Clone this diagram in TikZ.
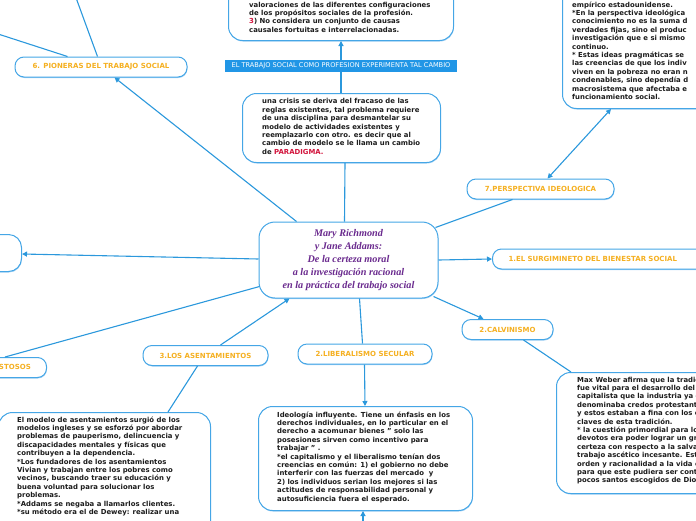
\documentclass[tikz,border=0pt]{standalone}
\usepackage{fontspec}
\setmainfont{DejaVu Sans}
\newfontfamily\timesbi{Liberation Serif}
\usetikzlibrary{arrows.meta,calc,shadows}
\definecolor{lineblue}{HTML}{2B98DC}
\definecolor{boxblue}{HTML}{45A6E6}
\definecolor{shadowblue}{HTML}{A6D2F4}
\definecolor{labelorange}{HTML}{F5B021}
\definecolor{titlepurple}{HTML}{6A2A8E}
\definecolor{accentred}{HTML}{D2143C}
\definecolor{bannerblue}{HTML}{2196E6}
\definecolor{inktext}{HTML}{1C1C1C}
\begin{document}
\begin{tikzpicture}[x=1pt,y=-1pt,
 bigbox/.style={draw=boxblue,line width=1pt,fill=white,rounded corners=14pt,inner sep=0pt,
   drop shadow={shadow xshift=0.4pt,shadow yshift=-1pt,fill=shadowblue,opacity=1}},
 pill/.style={draw=boxblue,line width=1pt,fill=white,rounded corners=9pt,minimum height=20pt,inner sep=0pt,
   font=\fontsize{7}{8}\selectfont\bfseries,text=labelorange,
   drop shadow={shadow xshift=0.4pt,shadow yshift=-1pt,fill=shadowblue,opacity=1}},
 bodytext/.style={anchor=north west,inner sep=0pt,align=left,text=inktext,font=\fontsize{6.9}{8.4}\selectfont\bfseries},
 conn/.style={draw=lineblue,line width=1.1pt},
 arrowend/.style={-{Triangle[length=5pt,width=5pt]}},
]
\useasboundingbox (0,0) rectangle (696,520);
\clip (0,0) rectangle (696,520);

% ---- boxes ----
\node[bigbox,anchor=north west,minimum width=225,minimum height=90] (topc) at (228,-50) {};
\node[bodytext] (topctxt) at (249,0.9) {\rule{0pt}{6pt}valoraciones de las diferentes configuraciones\\
de los propósitos sociales de la profesión.\\
{\color{accentred}3}) No considera un conjunto de causas\\
causales fortuitas e interrelacionadas.};

\node[fill=bannerblue,text=white,font=\fontsize{6.6}{8}\selectfont,minimum width=232,minimum height=12,inner sep=0pt] (banner) at (341,66) {EL TRABAJO SOCIAL COMO PROFESION EXPERIMENTA TAL CAMBIO};

\node[bigbox,anchor=north west,minimum width=198,minimum height=69] (crisis) at (242,93) {};
\node[bodytext] (crisistxt) at (262,97.6) {\rule{0pt}{6pt}una crisis se deriva del fracaso de las\\
reglas existentes, tal problema requiere\\
de una disciplina para desmantelar su\\
modelo de actividades existentes y\\
reemplazarlo con otro. es decir que al\\
cambio de modelo se le llama un cambio\\
de {\color{accentred}PARADIGMA.}};

\node[bigbox,minimum width=179,minimum height=76,rounded corners=16pt,
  font={\timesbi\fontsize{10.2}{13}\selectfont\bfseries\itshape},text=titlepurple,align=center] (center) at (348.5,260)
  {Mary Richmond\\y Jane Addams:\\De la certeza moral\\a la investigación racional\\en la práctica del trabajo social};

\node[bigbox,anchor=north west,minimum width=170,minimum height=158] (perspbox) at (562,-50) {};
\node[bodytext] (persptxt) at (572,0.9) {\rule{0pt}{6pt}empírico estadounidense.\\
*En la perspectiva ideológica\\
conocimiento no es la suma d\\
verdades fijas, sino el produc\\
investigación que e si mismo\\
continuo.\\
* Estas ideas pragmáticas se\\
las creencias de que los indiv\\
viven en la pobreza no eran n\\
condenables, sino dependía d\\
macrosistema que afectaba e\\
funcionamiento social.};

\node[bigbox,anchor=north east,minimum width=120,minimum height=37,rounded corners=13pt] (leftn) at (22,234) {};

\node[bigbox,anchor=north west,minimum width=212,minimum height=150] (asentbox) at (-2,412) {};
\node[bodytext] (asenttxt) at (17,415.9) {\rule{0pt}{6pt}El modelo de asentamientos surgió de los\\
modelos ingleses y se esforzó por abordar\\
problemas de pauperismo, delincuencia y\\
discapacidades mentales y físicas que\\
contribuyen a la dependencia.\\
*Los fundadores de los asentamientos\\
Vivian y trabajan entre los pobres como\\
vecinos, buscando traer su educación y\\
buena voluntad para solucionar los\\
problemas.\\
*Addams se negaba a llamarlos clientes.\\
*su método era el de Dewey: realizar una};

\node[bigbox,anchor=north west,minimum width=214,minimum height=104] (liberbox) at (258,406) {};
\node[bodytext] (libertxt) at (277,410.9) {\rule{0pt}{6pt}Ideología influyente. Tiene un énfasis en los\\
derechos individuales, en lo particular en el\\
derecho a acomunar bienes " solo las\\
posesiones sirven como incentivo para\\
trabajar " .\\
*el capitalismo y el liberalismo tenían dos\\
creencias en común: 1) el gobierno no debe\\
interferir con las fuerzas del mercado\ \ y\\
2) los individuos serian los mejores si las\\
actitudes de responsabilidad personal y\\
autosuficiencia fuera el esperado.};

\node[bigbox,anchor=north west,minimum width=170,minimum height=121] (calvbox) at (556,372) {};
\node[bodytext] (calvtxt) at (577,375.9) {\rule{0pt}{6pt}Max Weber afirma que la tradic\\
fue vital para el desarrollo del\\
capitalista que la industria ya c\\
denominaba credos protestant\\
y estos estaban a fina con los c\\
claves de esta tradición.\\
* la cuestión primordial para lo\\
devotos era poder lograr un gr\\
certeza con respecto a la salva\\
trabajo ascético incesante. Est\\
orden y racionalidad a la vida c\\
para que este pudiera ser cont\\
pocos santos escogidos de Dio};

% ---- labels ----
\node[pill,minimum width=172] (pion) at (101,67) {6. PIONERAS DEL TRABAJO SOCIAL};
\node[pill,anchor=north east,minimum width=120] (stos) at (47,357) {};
\node[anchor=east,inner sep=0pt,font=\fontsize{7}{8}\selectfont\bfseries,text=labelorange] (stostxt) at (31,367) {STOSOS};
\node[pill,minimum width=125] (asent) at (205.5,355.5) {3.LOS ASENTAMIENTOS};
\node[pill,minimum width=134] (liber) at (365,354) {2.LIBERALISMO SECULAR};
\node[pill,minimum width=91] (calvin) at (507.5,329.5) {2.CALVINISMO};
\node[pill,minimum width=147] (persp) at (540.5,189) {7.PERSPECTIVA IDEOLOGICA};
\node[pill,anchor=west,inner xsep=16pt,text width=200pt,align=left] (surg) at (492,259) {1.EL SURGIMINETO DEL BIENESTAR SOCIAL};

% ---- free ends ----
\coordinate (offA) at (75,-5);
\coordinate (offB) at (-5,33);
\coordinate (offC) at (363,525);

% ---- connectors ----
\draw[conn] ($(pion.north west)+(83,0)$) -- (offA);
\draw[conn] ($(pion.north west)+(53,0)$) -- (offB);
\draw[conn,arrowend] ($(center.north west)+(38,0)$) -- ($(pion.south west)+(100,0)$);
\draw[conn,arrowend] (banner.north) -- ($(topc.south west)+(113,0)$);
\draw[conn] (banner.south) -- ($(crisis.north west)+(99,0)$);
\draw[conn] ($(crisis.south west)+(103,0)$) -- ($(center.north west)+(86,0)$);
\draw[conn,arrowend] ($(center.west)+(0,-1)$) -- ($(leftn.north east)+(0,20)$);
\draw[conn] ($(center.south west)+(1,-12)$) -- ($(stos.north east)+(-42,0)$);
\draw[conn,arrowend] ($(asent.north west)+(78,0)$) -- ($(center.south west)+(31,0)$);
\draw[conn] ($(asent.south west)+(55,0)$) -- ($(asentbox.north west)+(170,0)$);
\draw[conn] ($(center.south west)+(101,0)$) -- ($(liber.north west)+(65,0)$);
\draw[conn,arrowend] ($(liber.south west)+(67,0)$) -- ($(liberbox.north west)+(107,0)$);
\draw[conn,arrowend] (offC) -- ($(liberbox.south west)+(105,0)$);
\draw[conn,arrowend] ($(center.south east)+(-5,-2)$) -- ($(calvin.north west)+(22,0)$);
\draw[conn] ($(calvin.south west)+(62,0)$) -- ($(calvbox.north west)+(15,0)$);
\draw[conn,arrowend] (center.east) -- (surg.west);
\draw[conn] ($(persp.south west)+(46,0)$) -- ($(center.north east)+(-3,6)$);
\draw[conn,{Triangle[length=5pt,width=5pt]}-{Triangle[length=5pt,width=5pt]}] ($(persp.north west)+(81,0)$) -- ($(perspbox.south west)+(49,0)$);
\end{tikzpicture}
\end{document}
